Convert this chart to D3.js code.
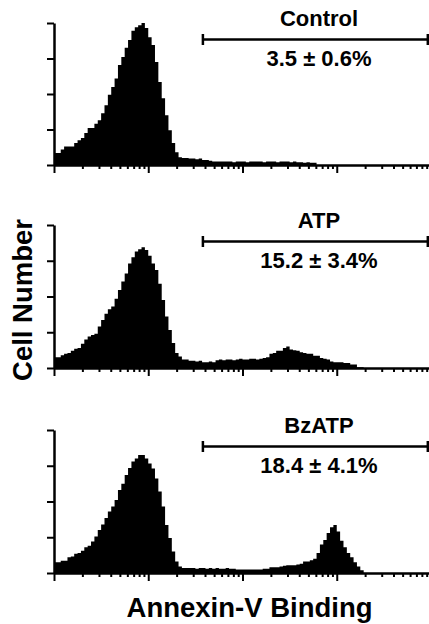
<html>
  <head>
    <meta charset="utf-8">
    <title>Annexin-V Binding</title>
    <style type="text/css">
      body { margin: 0; background: #fff; }
      .lbl { font-family: Arial, "Liberation Sans", sans-serif; font-weight: bold; fill: #000; }
    </style>
    <script src="https://d3js.org/d3.v7.min.js"></script>
  </head>
  <body>
    <svg width="429" height="624"></svg>
    <script>
      // histogram counts, 28 channels per decade starting at 10^0
      var panelNames = ["Control", "ATP", "BzATP"];
      var gateLabels = ["3.5 \u00b1 0.6%", "15.2 \u00b1 3.4%", "18.4 \u00b1 4.1%"];
      var controlCounts = [17,17,22,26,26,26,31,35,38,45,52,52,58,63,73,84,99,110,122,141,
                           152,165,176,189,194,197,200,193,180,169,145,117,94,70,49,31,18,11,10,10,
                           9,9,8,9,7,7,6,5,5,5,5,5,5,4,5,5,5,4,5,5,
                           5,5,4,5,5,5,4,5,5,5,4,5,4,4,3,4,3,3];
      var atpCounts = [15,15,18,20,21,24,27,28,34,40,44,46,48,58,67,76,82,86,97,109,
                       121,132,146,155,163,166,169,165,157,146,137,118,95,72,53,35,21,16,12,12,
                       10,10,9,10,8,8,9,8,11,12,11,12,12,11,12,13,12,12,13,13,
                       12,13,14,15,20,21,24,24,28,30,26,25,24,22,21,20,20,17,17,14,
                       13,12,9,8,8,8,7,7,5,5,1,1];
      var bzatpCounts = [15,15,17,17,22,23,27,28,31,36,38,44,51,60,68,77,86,93,102,116,
                         125,137,147,156,160,165,165,160,153,146,132,114,93,67,49,30,16,9,7,7,
                         7,7,6,7,7,6,7,6,7,6,6,7,6,6,5,5,5,5,5,5,
                         5,5,6,6,8,8,8,9,10,11,11,11,12,13,16,16,18,20,28,40,
                         46,56,64,67,58,45,36,28,22,15,9,4];
      var countTicks = [0, 50, 100, 150, 200];
      var gateRange = [38, 9250];
      var binsPerDecade = 28;

      var series = [controlCounts, atpCounts, bzatpCounts];

      var svg = d3.select("svg"),
          panelTop = [23, 225, 430],
          panelBottom = [165, 368, 573],
          labelX = 319;

      var x = d3.scaleLog().domain([1, 1e4]).range([54, 431]);

      series.forEach(function(counts, p){
        var y = d3.scaleLinear().domain([0, 200]).range([panelBottom[p], panelTop[p]]);
        var g = svg.append("g");

        var area = d3.area()
            .curve(d3.curveStepAfter)
            .x((d, i) => x(Math.pow(10, i / binsPerDecade)))
            .y0(y(0))
            .y1(d => y(d));

        g.append("path")
            .attr("d", area(counts.concat([0])))
            .attr("fill", "#000");

        var xAxis = g.append("g")
            .attr("transform", `translate(0,${panelBottom[p]})`)
            .call(d3.axisBottom(x).tickSizeOuter(0).tickFormat(""));
        xAxis.selectAll(".tick line")
            .attr("y2", d => Math.abs(Math.log10(d) - Math.round(Math.log10(d))) < 1e-9 ? 8 : 4)
            .attr("stroke-width", 2);
        xAxis.select(".domain").attr("stroke-width", 2.5);

        var yAxis = g.append("g")
            .attr("transform", `translate(${x(1)},0)`)
            .call(d3.axisLeft(y).tickValues(countTicks).tickSize(7).tickSizeOuter(0).tickFormat(""));
        yAxis.selectAll(".tick line").attr("stroke-width", 2);
        yAxis.select(".domain").attr("stroke-width", 2.5);

        // gate bracket
        var gy = panelTop[p] + 16.5;
        g.append("line")
            .attr("x1", x(gateRange[0])).attr("x2", x(gateRange[1]))
            .attr("y1", gy).attr("y2", gy)
            .attr("stroke", "#000").attr("stroke-width", 2.5);
        gateRange.forEach(function(v){
          g.append("line")
              .attr("x1", x(v)).attr("x2", x(v))
              .attr("y1", gy - 5.5).attr("y2", gy + 5.5)
              .attr("stroke", "#000").attr("stroke-width", 2.5);
        });

        g.append("text")
            .attr("class", "lbl")
            .attr("x", labelX).attr("y", panelTop[p] + 3)
            .attr("text-anchor", "middle")
            .style("font-size", "22px")
            .text(panelNames[p]);
        g.append("text")
            .attr("class", "lbl")
            .attr("x", labelX).attr("y", panelTop[p] + 43)
            .attr("text-anchor", "middle")
            .style("font-size", "22px")
            .text(gateLabels[p]);
      });

      svg.append("text")
          .attr("class", "lbl")
          .attr("transform", "translate(32,300) rotate(-90)")
          .attr("text-anchor", "middle")
          .style("font-size", "27.5px")
          .text("Cell Number");

      svg.append("text")
          .attr("class", "lbl")
          .attr("x", 249.5).attr("y", 617)
          .attr("text-anchor", "middle")
          .style("font-size", "27.5px")
          .text("Annexin-V Binding");
    </script>
  </body>
</html>
